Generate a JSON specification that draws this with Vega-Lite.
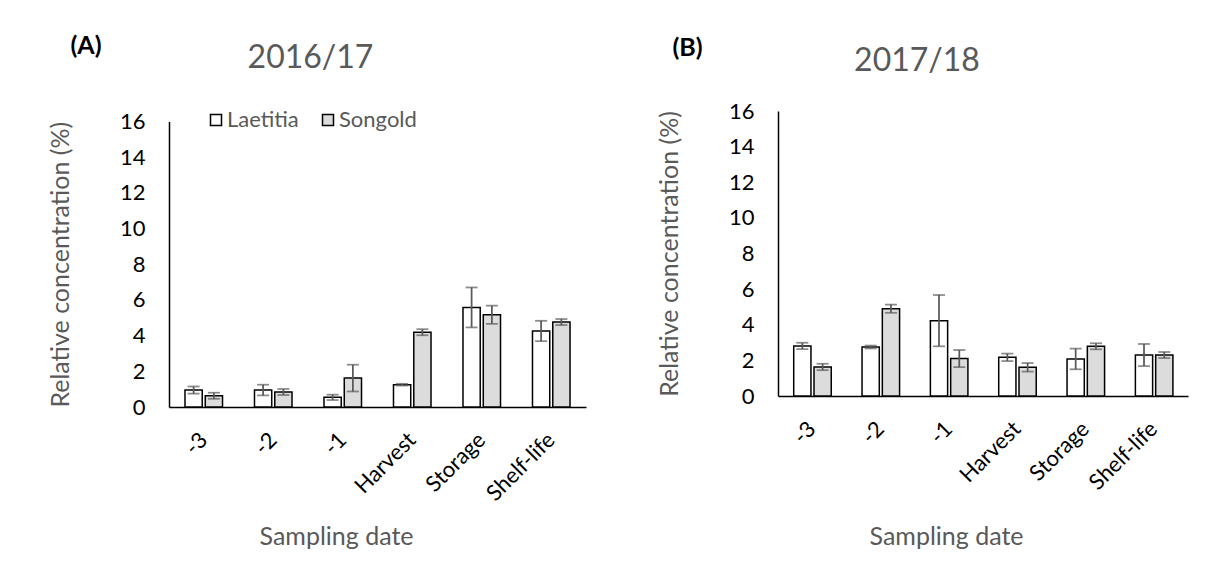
{
  "$schema": "https://vega.github.io/schema/vega-lite/v6.json",
  "background": "white",
  "padding": {"left": 48, "top": 34, "right": 5, "bottom": 5},
  "datasets": {
    "s2016": [
      {"date": "-3", "cultivar": "Laetitia", "value": 0.95, "lo": 0.75, "hi": 1.15},
      {"date": "-3", "cultivar": "Songold", "value": 0.63, "lo": 0.46, "hi": 0.80},
      {"date": "-2", "cultivar": "Laetitia", "value": 0.95, "lo": 0.65, "hi": 1.25},
      {"date": "-2", "cultivar": "Songold", "value": 0.84, "lo": 0.67, "hi": 1.01},
      {"date": "-1", "cultivar": "Laetitia", "value": 0.54, "lo": 0.39, "hi": 0.69},
      {"date": "-1", "cultivar": "Songold", "value": 1.62, "lo": 0.87, "hi": 2.37},
      {"date": "Harvest", "cultivar": "Laetitia", "value": 1.25, "lo": 1.20, "hi": 1.30},
      {"date": "Harvest", "cultivar": "Songold", "value": 4.19, "lo": 4.02, "hi": 4.36},
      {"date": "Storage", "cultivar": "Laetitia", "value": 5.58, "lo": 4.46, "hi": 6.70},
      {"date": "Storage", "cultivar": "Songold", "value": 5.17, "lo": 4.66, "hi": 5.68},
      {"date": "Shelf-life", "cultivar": "Laetitia", "value": 4.26, "lo": 3.69, "hi": 4.83},
      {"date": "Shelf-life", "cultivar": "Songold", "value": 4.76, "lo": 4.59, "hi": 4.93}
    ],
    "s2017": [
      {"date": "-3", "cultivar": "Laetitia", "value": 2.81, "lo": 2.63, "hi": 2.99},
      {"date": "-3", "cultivar": "Songold", "value": 1.63, "lo": 1.45, "hi": 1.81},
      {"date": "-2", "cultivar": "Laetitia", "value": 2.75, "lo": 2.67, "hi": 2.83},
      {"date": "-2", "cultivar": "Songold", "value": 4.90, "lo": 4.67, "hi": 5.13},
      {"date": "-1", "cultivar": "Laetitia", "value": 4.23, "lo": 2.79, "hi": 5.67},
      {"date": "-1", "cultivar": "Songold", "value": 2.10, "lo": 1.62, "hi": 2.58},
      {"date": "Harvest", "cultivar": "Laetitia", "value": 2.17, "lo": 1.96, "hi": 2.38},
      {"date": "Harvest", "cultivar": "Songold", "value": 1.61, "lo": 1.37, "hi": 1.85},
      {"date": "Storage", "cultivar": "Laetitia", "value": 2.08, "lo": 1.50, "hi": 2.66},
      {"date": "Storage", "cultivar": "Songold", "value": 2.79, "lo": 2.62, "hi": 2.96},
      {"date": "Shelf-life", "cultivar": "Laetitia", "value": 2.30, "lo": 1.68, "hi": 2.92},
      {"date": "Shelf-life", "cultivar": "Songold", "value": 2.30, "lo": 2.13, "hi": 2.47}
    ]
  },
  "config": {
    "view": {"stroke": null},
    "font": "Lato",
    "axis": {
      "grid": false,
      "ticks": false,
      "domainColor": "black",
      "domainWidth": 1.5,
      "labelColor": "black",
      "labelFont": "Lato",
      "labelFontSize": 22,
      "titleColor": "#595959",
      "titleFont": "Lato",
      "titleFontSize": 25,
      "titleFontWeight": "normal"
    },
    "axisY": {"values": [0, 2, 4, 6, 8, 10, 12, 14, 16], "labelPadding": 24, "titlePadding": 46},
    "axisX": {"labelAngle": -45, "labelAlign": "right", "labelBaseline": "middle", "labelPadding": 29}
  },
  "resolve": {"scale": {"fill": "independent"}},
  "spacing": 71,
  "hconcat": [
    {
      "title": {"text": "(A)", "anchor": "start", "frame": "bounds", "fontSize": 25, "fontWeight": "bold", "color": "black", "font": "Lato", "dx": 22, "offset": -37, "baseline": "alphabetic"},
      "resolve": {"scale": {"fill": "independent"}},
      "vconcat": [
        {
          "width": 417,
          "height": 296,
          "data": {"name": "s2016"},
          "title": {"text": "2016/17", "fontSize": 32, "font": "Lato", "color": "#595959", "fontWeight": "normal", "anchor": "middle", "frame": "group", "dx": -67, "baseline": "alphabetic", "offset": 9},
          "encoding": {
            "x": {"field": "date", "type": "nominal", "sort": ["-3", "-2", "-1", "Harvest", "Storage", "Shelf-life"], "scale": {"paddingInner": 0.46, "paddingOuter": 0.23}, "axis": {"title": "Sampling date", "titleX": 167, "titleY": 137, "titleBaseline": "alphabetic"}},
            "xOffset": {"field": "cultivar", "type": "nominal", "sort": ["Laetitia", "Songold"], "scale": {"paddingInner": 0.15, "paddingOuter": 0}}
          },
          "layer": [
            {
              "mark": {"type": "bar", "stroke": "black", "strokeWidth": 1.5},
              "encoding": {
                "y": {"field": "value", "type": "quantitative", "title": "Relative concentration (%)", "scale": {"domain": [0, 16], "nice": false, "range": [296, 10.5]}},
                "fill": {"field": "cultivar", "type": "nominal", "scale": {"domain": ["Laetitia", "Songold"], "range": ["white", "#dcdcdc"]}, "legend": {"title": null, "orient": "none", "legendX": 36, "legendY": -2, "direction": "horizontal", "symbolType": "square", "symbolSize": 121, "symbolStrokeColor": "black", "symbolStrokeWidth": 1.5, "labelColor": "#595959", "labelFont": "Lato", "labelFontSize": 22, "columnPadding": 18, "labelOffset": 0}}
              }
            },
            {
              "mark": {"type": "rule", "color": "#595959", "strokeWidth": 1.75},
              "encoding": {"y": {"field": "lo", "type": "quantitative", "title": "Relative concentration (%)"}, "y2": {"field": "hi"}}
            },
            {
              "mark": {"type": "tick", "color": "#595959", "thickness": 1.75, "size": 12, "orient": "horizontal"},
              "encoding": {"y": {"field": "lo", "type": "quantitative", "title": "Relative concentration (%)"}}
            },
            {
              "mark": {"type": "tick", "color": "#595959", "thickness": 1.75, "size": 12, "orient": "horizontal"},
              "encoding": {"y": {"field": "hi", "type": "quantitative", "title": "Relative concentration (%)"}}
            }
          ]
        }
      ]
    },
    {
      "title": {"text": "(B)", "anchor": "start", "frame": "bounds", "fontSize": 25, "fontWeight": "bold", "color": "black", "font": "Lato", "dx": 15, "offset": -36, "baseline": "alphabetic"},
      "resolve": {"scale": {"fill": "independent"}},
      "vconcat": [
        {
          "width": 410,
          "height": 285,
          "data": {"name": "s2017"},
          "title": {"text": "2017/18", "fontSize": 32, "font": "Lato", "color": "#595959", "fontWeight": "normal", "anchor": "middle", "frame": "group", "dx": -66, "baseline": "alphabetic", "offset": -3},
          "encoding": {
            "x": {"field": "date", "type": "nominal", "sort": ["-3", "-2", "-1", "Harvest", "Storage", "Shelf-life"], "scale": {"paddingInner": 0.46, "paddingOuter": 0.23}, "axis": {"title": "Sampling date", "titleX": 168, "titleY": 148, "titleBaseline": "alphabetic"}},
            "xOffset": {"field": "cultivar", "type": "nominal", "sort": ["Laetitia", "Songold"], "scale": {"paddingInner": 0.15, "paddingOuter": 0}}
          },
          "layer": [
            {
              "mark": {"type": "bar", "stroke": "black", "strokeWidth": 1.5},
              "encoding": {
                "y": {"field": "value", "type": "quantitative", "title": "Relative concentration (%)", "scale": {"domain": [0, 16], "nice": false}},
                "fill": {"field": "cultivar", "type": "nominal", "scale": {"domain": ["Laetitia", "Songold"], "range": ["white", "#dcdcdc"]}, "legend": null}
              }
            },
            {
              "mark": {"type": "rule", "color": "#595959", "strokeWidth": 1.75},
              "encoding": {"y": {"field": "lo", "type": "quantitative", "title": "Relative concentration (%)"}, "y2": {"field": "hi"}}
            },
            {
              "mark": {"type": "tick", "color": "#595959", "thickness": 1.75, "size": 12, "orient": "horizontal"},
              "encoding": {"y": {"field": "lo", "type": "quantitative", "title": "Relative concentration (%)"}}
            },
            {
              "mark": {"type": "tick", "color": "#595959", "thickness": 1.75, "size": 12, "orient": "horizontal"},
              "encoding": {"y": {"field": "hi", "type": "quantitative", "title": "Relative concentration (%)"}}
            }
          ]
        }
      ]
    }
  ]
}
